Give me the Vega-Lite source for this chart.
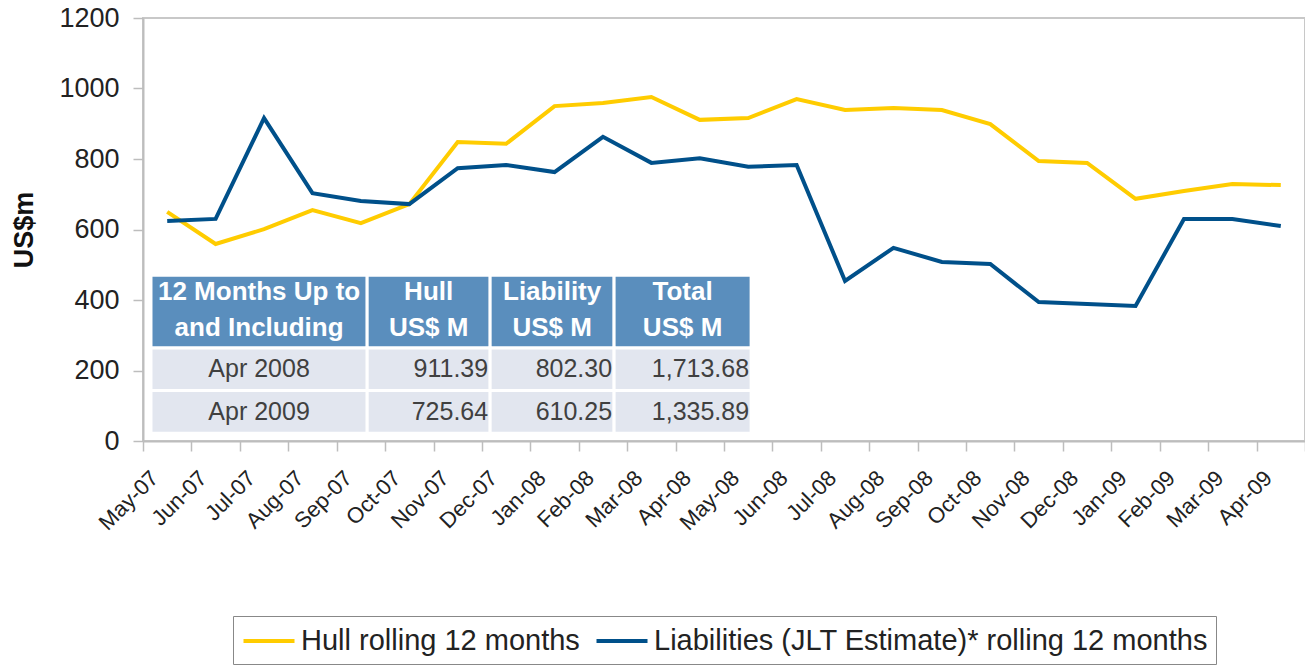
{
  "$schema": "https://vega.github.io/schema/vega-lite/v6.json",
  "width": 1162,
  "height": 423,
  "autosize": {"type": "none"},
  "padding": {"left": 143, "top": 18, "right": 0, "bottom": 225},
  "background": "white",
  "config": {
    "view": {"stroke": "#C8C8C8", "strokeWidth": 2},
    "font": "Liberation Sans",
    "axis": {"grid": false, "domainColor": "#BDBDBD", "domainWidth": 2, "tickColor": "#BDBDBD", "tickWidth": 1.5, "labelFont": "Liberation Sans", "labelColor": "#222222", "titleFont": "Liberation Sans", "titleColor": "#111111"}
  },
  "datasets": {
    "lines": [
      {"month": "May-07", "series": "Hull rolling 12 months", "value": 650},
      {"month": "Jun-07", "series": "Hull rolling 12 months", "value": 559},
      {"month": "Jul-07", "series": "Hull rolling 12 months", "value": 601},
      {"month": "Aug-07", "series": "Hull rolling 12 months", "value": 655},
      {"month": "Sep-07", "series": "Hull rolling 12 months", "value": 618},
      {"month": "Oct-07", "series": "Hull rolling 12 months", "value": 672},
      {"month": "Nov-07", "series": "Hull rolling 12 months", "value": 848},
      {"month": "Dec-07", "series": "Hull rolling 12 months", "value": 843},
      {"month": "Jan-08", "series": "Hull rolling 12 months", "value": 950},
      {"month": "Feb-08", "series": "Hull rolling 12 months", "value": 959},
      {"month": "Mar-08", "series": "Hull rolling 12 months", "value": 976},
      {"month": "Apr-08", "series": "Hull rolling 12 months", "value": 911},
      {"month": "May-08", "series": "Hull rolling 12 months", "value": 916},
      {"month": "Jun-08", "series": "Hull rolling 12 months", "value": 970},
      {"month": "Jul-08", "series": "Hull rolling 12 months", "value": 939},
      {"month": "Aug-08", "series": "Hull rolling 12 months", "value": 945},
      {"month": "Sep-08", "series": "Hull rolling 12 months", "value": 939},
      {"month": "Oct-08", "series": "Hull rolling 12 months", "value": 899},
      {"month": "Nov-08", "series": "Hull rolling 12 months", "value": 794},
      {"month": "Dec-08", "series": "Hull rolling 12 months", "value": 789},
      {"month": "Jan-09", "series": "Hull rolling 12 months", "value": 687},
      {"month": "Feb-09", "series": "Hull rolling 12 months", "value": 709},
      {"month": "Mar-09", "series": "Hull rolling 12 months", "value": 729},
      {"month": "Apr-09", "series": "Hull rolling 12 months", "value": 726},
      {"month": "May-07", "series": "Liabilities (JLT Estimate)* rolling 12 months", "value": 624},
      {"month": "Jun-07", "series": "Liabilities (JLT Estimate)* rolling 12 months", "value": 630},
      {"month": "Jul-07", "series": "Liabilities (JLT Estimate)* rolling 12 months", "value": 916},
      {"month": "Aug-07", "series": "Liabilities (JLT Estimate)* rolling 12 months", "value": 703},
      {"month": "Sep-07", "series": "Liabilities (JLT Estimate)* rolling 12 months", "value": 681},
      {"month": "Oct-07", "series": "Liabilities (JLT Estimate)* rolling 12 months", "value": 672},
      {"month": "Nov-07", "series": "Liabilities (JLT Estimate)* rolling 12 months", "value": 774},
      {"month": "Dec-07", "series": "Liabilities (JLT Estimate)* rolling 12 months", "value": 783},
      {"month": "Jan-08", "series": "Liabilities (JLT Estimate)* rolling 12 months", "value": 763},
      {"month": "Feb-08", "series": "Liabilities (JLT Estimate)* rolling 12 months", "value": 863},
      {"month": "Mar-08", "series": "Liabilities (JLT Estimate)* rolling 12 months", "value": 789},
      {"month": "Apr-08", "series": "Liabilities (JLT Estimate)* rolling 12 months", "value": 802},
      {"month": "May-08", "series": "Liabilities (JLT Estimate)* rolling 12 months", "value": 778},
      {"month": "Jun-08", "series": "Liabilities (JLT Estimate)* rolling 12 months", "value": 783},
      {"month": "Jul-08", "series": "Liabilities (JLT Estimate)* rolling 12 months", "value": 454},
      {"month": "Aug-08", "series": "Liabilities (JLT Estimate)* rolling 12 months", "value": 548},
      {"month": "Sep-08", "series": "Liabilities (JLT Estimate)* rolling 12 months", "value": 508},
      {"month": "Oct-08", "series": "Liabilities (JLT Estimate)* rolling 12 months", "value": 502},
      {"month": "Nov-08", "series": "Liabilities (JLT Estimate)* rolling 12 months", "value": 394},
      {"month": "Dec-08", "series": "Liabilities (JLT Estimate)* rolling 12 months", "value": 389},
      {"month": "Jan-09", "series": "Liabilities (JLT Estimate)* rolling 12 months", "value": 383},
      {"month": "Feb-09", "series": "Liabilities (JLT Estimate)* rolling 12 months", "value": 630},
      {"month": "Mar-09", "series": "Liabilities (JLT Estimate)* rolling 12 months", "value": 630},
      {"month": "Apr-09", "series": "Liabilities (JLT Estimate)* rolling 12 months", "value": 610}
    ],
    "table": [
      {"kind": "header", "align": "center", "label": "12 Months Up to\nand Including", "x0": 0.165, "x1": 4.63, "y0": 264, "y1": 470},
      {"kind": "header", "align": "center", "label": "Hull\nUS$ M", "x0": 4.63, "x1": 7.17, "y0": 264, "y1": 470},
      {"kind": "header", "align": "center", "label": "Liability\nUS$ M", "x0": 7.17, "x1": 9.73, "y0": 264, "y1": 470},
      {"kind": "header", "align": "center", "label": "Total\nUS$ M", "x0": 9.73, "x1": 12.56, "y0": 264, "y1": 470},
      {"kind": "body", "align": "center", "label": "Apr 2008", "x0": 0.165, "x1": 4.63, "y0": 143, "y1": 264},
      {"kind": "body", "align": "right", "label": "911.39", "x0": 4.63, "x1": 7.17, "y0": 143, "y1": 264},
      {"kind": "body", "align": "right", "label": "802.30", "x0": 7.17, "x1": 9.73, "y0": 143, "y1": 264},
      {"kind": "body", "align": "right", "label": "1,713.68", "x0": 9.73, "x1": 12.56, "y0": 143, "y1": 264},
      {"kind": "body", "align": "center", "label": "Apr 2009", "x0": 0.165, "x1": 4.63, "y0": 22, "y1": 143},
      {"kind": "body", "align": "right", "label": "725.64", "x0": 4.63, "x1": 7.17, "y0": 22, "y1": 143},
      {"kind": "body", "align": "right", "label": "610.25", "x0": 7.17, "x1": 9.73, "y0": 22, "y1": 143},
      {"kind": "body", "align": "right", "label": "1,335.89", "x0": 9.73, "x1": 12.56, "y0": 22, "y1": 143}
    ]
  },
  "layer": [
    {
      "data": {"name": "lines"},
      "mark": {"type": "line", "strokeWidth": 4},
      "encoding": {
        "x": {
          "field": "month", "type": "ordinal", "sort": null,
          "scale": {"type": "band", "paddingInner": 0, "paddingOuter": 0},
          "axis": {"title": null, "labelAngle": -45, "labelAlign": "right", "labelBaseline": "top", "labelFontSize": 22, "labelPadding": 16, "tickBand": "extent", "tickSize": 10, "labelOffset": -20}
        },
        "y": {
          "field": "value", "type": "quantitative",
          "scale": {"domain": [0, 1200], "nice": false},
          "axis": {"title": "US$m", "format": "d", "titleFontSize": 27, "titleFontWeight": "bold", "titlePadding": 20, "labelFontSize": 27, "labelPadding": 14, "tickSize": 10, "values": [0, 200, 400, 600, 800, 1000, 1200]}
        },
        "color": {
          "field": "series", "type": "nominal",
          "scale": {"domain": ["Hull rolling 12 months", "Liabilities (JLT Estimate)* rolling 12 months"], "range": ["#FFCC00", "#00508A"]},
          "legend": {"title": null, "orient": "none", "legendX": 90, "legendY": 598, "direction": "horizontal", "strokeColor": "#888888", "padding": 8, "symbolType": "M-1.7,0H1.7", "symbolSize": 900, "symbolOffset": 11, "symbolStrokeWidth": 4, "symbolFillColor": "transparent", "labelFontSize": 29, "labelFont": "Liberation Sans", "labelColor": "#222222", "labelLimit": 0, "columnPadding": 8, "labelOffset": 15}
        }
      }
    },
    {
      "data": {"name": "table"},
      "transform": [
        {"calculate": "(datum.x0 + datum.x1) / 2", "as": "xm"},
        {"calculate": "(datum.y0 + datum.y1) / 2", "as": "ym"}
      ],
      "layer": [
        {
          "transform": [{"filter": "datum.kind === 'header'"}],
          "mark": {"type": "rect", "fill": "#5A8EBD", "stroke": "white", "strokeWidth": 3},
          "encoding": {
            "x": {"field": "x0", "type": "quantitative", "scale": {"domain": [0, 24], "nice": false}, "axis": null},
            "x2": {"field": "x1"},
            "y": {"field": "y0", "type": "quantitative"},
            "y2": {"field": "y1"}
          }
        },
        {
          "transform": [{"filter": "datum.kind === 'body'"}],
          "mark": {"type": "rect", "fill": "#E2E6EF", "stroke": "white", "strokeWidth": 3},
          "encoding": {
            "x": {"field": "x0", "type": "quantitative", "scale": {"domain": [0, 24], "nice": false}, "axis": null},
            "x2": {"field": "x1"},
            "y": {"field": "y0", "type": "quantitative"},
            "y2": {"field": "y1"}
          }
        },
        {
          "transform": [{"filter": "datum.kind === 'header'"}],
          "mark": {"type": "text", "color": "white", "fontWeight": "bold", "fontSize": 26, "lineBreak": "\n", "lineHeight": 36, "align": "center", "baseline": "middle", "dy": -20},
          "encoding": {
            "x": {"field": "xm", "type": "quantitative", "scale": {"domain": [0, 24], "nice": false}, "axis": null},
            "y": {"field": "ym", "type": "quantitative"},
            "text": {"field": "label"}
          }
        },
        {
          "transform": [{"filter": "datum.kind === 'body' && datum.align === 'center'"}],
          "mark": {"type": "text", "color": "#404040", "fontSize": 25, "align": "center", "baseline": "middle"},
          "encoding": {
            "x": {"field": "xm", "type": "quantitative", "scale": {"domain": [0, 24], "nice": false}, "axis": null},
            "y": {"field": "ym", "type": "quantitative"},
            "text": {"field": "label"}
          }
        },
        {
          "transform": [{"filter": "datum.kind === 'body' && datum.align === 'right'"}],
          "mark": {"type": "text", "color": "#404040", "fontSize": 25, "align": "right", "baseline": "middle", "dx": -2},
          "encoding": {
            "x": {"field": "x1", "type": "quantitative", "scale": {"domain": [0, 24], "nice": false}, "axis": null},
            "y": {"field": "ym", "type": "quantitative"},
            "text": {"field": "label"}
          }
        }
      ]
    }
  ],
  "resolve": {"scale": {"x": "independent", "color": "independent"}}
}
